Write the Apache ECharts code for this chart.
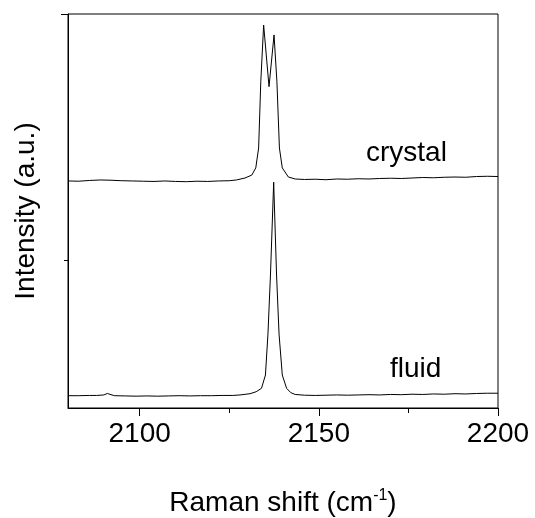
<!DOCTYPE html>
<html>
<head>
<meta charset="utf-8">
<script src="https://cdn.jsdelivr.net/npm/echarts@6/dist/echarts.min.js"></script>
<style>
  html, body { margin: 0; padding: 0; background: #fff; }
  #chart { width: 535px; height: 518px; }
</style>
</head>
<body>
<div id="chart"></div>
<script>
// Raman spectra, values (intensity in arbitrary units)
var crystalShift = [2080, 2083, 2086, 2089, 2092, 2095, 2098, 2101, 2104, 2107, 2110, 2113, 2116, 2119, 2122, 2125, 2127, 2129.4, 2131.3, 2132.4, 2133.2, 2133.8, 2134.6, 2136.1, 2137.5, 2138.3, 2139.0, 2139.8, 2141.5, 2143.4, 2146, 2149, 2152, 2155, 2158, 2161, 2164, 2167, 2170, 2173, 2176, 2179, 2182, 2185, 2188, 2191, 2194, 2197, 2200];
var crystalInt   = [0.922, 0.921, 0.924, 0.926, 0.925, 0.923, 0.922, 0.921, 0.920, 0.922, 0.920, 0.919, 0.921, 0.920, 0.922, 0.923, 0.926, 0.934, 0.946, 0.975, 1.056, 1.325, 1.555, 1.305, 1.515, 1.325, 1.056, 0.975, 0.938, 0.930, 0.928, 0.929, 0.927, 0.930, 0.929, 0.931, 0.930, 0.932, 0.933, 0.932, 0.934, 0.936, 0.935, 0.937, 0.938, 0.937, 0.940, 0.941, 0.940];

var fluidShift = [2080, 2083, 2086, 2088, 2090, 2091, 2092, 2093, 2096, 2099, 2102, 2105, 2108, 2111, 2114, 2117, 2120, 2123, 2126, 2128, 2130.8, 2132.5, 2134.0, 2135.1, 2135.8, 2136.5, 2137.4, 2138.2, 2138.9, 2139.8, 2141.0, 2142.2, 2143.4, 2146, 2149, 2152, 2155, 2158, 2161, 2164, 2167, 2170, 2173, 2176, 2179, 2182, 2185, 2188, 2191, 2194, 2197, 2200];
var fluidInt   = [0.050, 0.050, 0.051, 0.051, 0.053, 0.059, 0.054, 0.050, 0.049, 0.048, 0.049, 0.048, 0.049, 0.050, 0.049, 0.050, 0.050, 0.051, 0.051, 0.053, 0.058, 0.066, 0.080, 0.134, 0.300, 0.540, 0.917, 0.540, 0.300, 0.134, 0.080, 0.062, 0.055, 0.052, 0.051, 0.052, 0.053, 0.052, 0.053, 0.054, 0.053, 0.055, 0.054, 0.056, 0.055, 0.057, 0.056, 0.058, 0.057, 0.059, 0.060, 0.060];

var xLabels = [2100, 2150, 2200];
var xMinor = [2125, 2175];
var yMajor = [1.6];
var yMinor = [0.6];

function pairs(xs, ys) {
  var out = [];
  for (var i = 0; i < xs.length; i++) out.push([xs[i], ys[i]]);
  return out;
}

var chart = echarts.init(document.getElementById('chart'), null, { renderer: 'canvas' });
var font = 'Arial, "Liberation Sans", sans-serif';

var option = {
  backgroundColor: '#fff',
  animation: false,
  grid: {
    left: 68, right: 37, top: 14, bottom: 110,
    outerBoundsMode: 'none', containLabel: false,
    show: true, borderColor: '#000', borderWidth: 1, backgroundColor: 'transparent'
  },
  xAxis: [{
    type: 'value', min: 2080, max: 2200,
    axisLine: { show: true, lineStyle: { color: '#000', width: 1 } },
    axisTick: { show: true, customValues: xLabels, length: 8, inside: false, lineStyle: { color: '#000' } },
    axisLabel: {
      show: true, customValues: xLabels, color: '#000', fontSize: 28, fontFamily: font, margin: 12,
      formatter: function (v) { return String(v); }
    },
    splitLine: { show: false },
    name: 'Raman shift (cm{sup|-1})',
    nameLocation: 'middle', nameGap: 80,
    nameTextStyle: {
      color: '#000', fontSize: 28, fontFamily: font,
      rich: { sup: { fontSize: 16, fontFamily: font, color: '#000', padding: [0, 0, 15, 0] } }
    }
  }, {
    type: 'value', min: 2080, max: 2200, position: 'bottom',
    axisLine: { show: false },
    axisTick: { show: true, customValues: xMinor, length: 5, lineStyle: { color: '#000' } },
    axisLabel: { show: false },
    splitLine: { show: false }
  }],
  yAxis: [{
    type: 'value', min: 0, max: 1.6, position: 'left',
    axisLine: { show: true, lineStyle: { color: '#000', width: 1 } },
    axisTick: { show: true, customValues: yMajor, length: 7, lineStyle: { color: '#000' } },
    axisLabel: { show: false },
    splitLine: { show: false },
    name: 'Intensity (a.u.)',
    nameLocation: 'middle', nameGap: 28,
    nameTextStyle: { color: '#000', fontSize: 28, fontFamily: font }
  }, {
    type: 'value', min: 0, max: 1.6, position: 'left', offset: 0,
    axisLine: { show: false },
    axisTick: { show: true, customValues: yMinor, length: 4, lineStyle: { color: '#000' } },
    axisLabel: { show: false },
    splitLine: { show: false }
  }],
  graphic: [
    { type: 'text', left: 366, top: 139, style: { text: 'crystal', font: '28px ' + font, fill: '#000' } },
    { type: 'text', left: 390, top: 355, style: { text: 'fluid', font: '28px ' + font, fill: '#000' } }
  ],
  series: [{
    name: 'crystal', type: 'line', xAxisIndex: 0, yAxisIndex: 0,
    data: pairs(crystalShift, crystalInt),
    showSymbol: false, smooth: false,
    lineStyle: { color: '#000', width: 1 }
  }, {
    name: 'fluid', type: 'line', xAxisIndex: 0, yAxisIndex: 0,
    data: pairs(fluidShift, fluidInt),
    showSymbol: false, smooth: false,
    lineStyle: { color: '#000', width: 1 }
  }]
};

chart.setOption(option);
</script>
</body>
</html>
